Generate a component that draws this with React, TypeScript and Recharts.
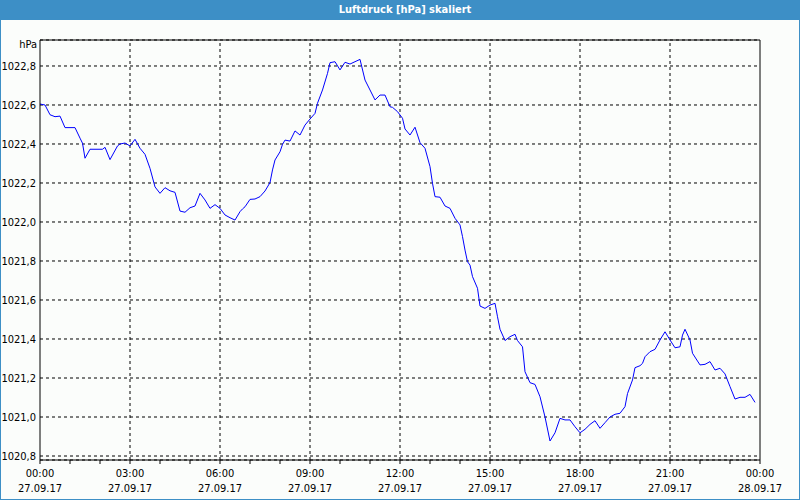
import { CartesianGrid, Line, LineChart, ReferenceLine, XAxis, YAxis } from "recharts";

// minutes since 27.09.17 00:00
const times = [
  0, 10, 20, 30, 40, 50, 70, 80, 85, 90, 100, 125, 130, 140, 155, 160, 170, 180, 190, 200,
  210, 220, 230, 240, 250, 260, 270, 280, 290, 300, 310, 320, 330, 340, 350, 360, 370, 380,
  390, 400, 405, 410, 420, 430, 440, 450, 460, 465, 470, 480, 485, 490, 500, 510, 520, 530,
  540, 550, 555, 565, 575, 580, 590, 600, 610, 620, 630, 640, 650, 660, 670, 680, 690, 700,
  705, 715, 725, 730, 740, 750, 760, 770, 780, 785, 790, 800, 810, 820, 830, 840, 845, 850,
  855, 860, 865, 875, 880, 890, 900, 910, 915, 920, 930, 940, 950, 955, 965, 970, 980, 990,
  1000, 1010, 1020, 1030, 1040, 1050, 1060, 1070, 1080, 1090, 1100, 1110, 1120, 1130, 1140,
  1150, 1160, 1170, 1175, 1185, 1190, 1200, 1205, 1210, 1220, 1230, 1240, 1250, 1260, 1270,
  1280, 1285, 1290, 1300, 1305, 1315, 1320, 1330, 1340, 1350, 1360, 1370, 1380, 1390, 1400,
  1410, 1420, 1430,
];

const pressure = [
  1022.605, 1022.6, 1022.55, 1022.54, 1022.543, 1022.484, 1022.484, 1022.43, 1022.404, 1022.327,
  1022.373, 1022.373, 1022.383, 1022.32, 1022.39, 1022.4, 1022.405, 1022.39, 1022.424, 1022.378,
  1022.347, 1022.275, 1022.18, 1022.147, 1022.176, 1022.16, 1022.152, 1022.056, 1022.05, 1022.073,
  1022.082, 1022.147, 1022.113, 1022.07, 1022.089, 1022.07, 1022.036, 1022.022, 1022.01, 1022.053,
  1022.067, 1022.078, 1022.116, 1022.118, 1022.13, 1022.159, 1022.202, 1022.267, 1022.318, 1022.36,
  1022.398, 1022.42, 1022.415, 1022.467, 1022.446, 1022.497, 1022.528, 1022.557, 1022.609, 1022.677,
  1022.762, 1022.817, 1022.822, 1022.78, 1022.819, 1022.81, 1022.822, 1022.834, 1022.728, 1022.677,
  1022.626, 1022.651, 1022.651, 1022.591, 1022.588, 1022.566, 1022.532, 1022.477, 1022.446, 1022.486,
  1022.407, 1022.378, 1022.284, 1022.198, 1022.13, 1022.127, 1022.082, 1022.07, 1022.019, 1021.985,
  1021.925, 1021.856, 1021.796, 1021.779, 1021.72, 1021.66, 1021.569, 1021.557, 1021.574, 1021.583,
  1021.514, 1021.45, 1021.392, 1021.412, 1021.424, 1021.392, 1021.36, 1021.232, 1021.176, 1021.167,
  1021.104, 1021.0, 1020.877, 1020.919, 1020.993, 1020.985, 1020.985, 1020.95, 1020.919, 1020.937,
  1020.962, 1020.981, 1020.942, 1020.971, 1021.0, 1021.014, 1021.019, 1021.053, 1021.12, 1021.19,
  1021.253, 1021.263, 1021.275, 1021.309, 1021.335, 1021.347, 1021.395, 1021.437, 1021.395, 1021.355,
  1021.36, 1021.42, 1021.45, 1021.395, 1021.327, 1021.287, 1021.267, 1021.27, 1021.284, 1021.241,
  1021.25, 1021.221, 1021.156, 1021.092, 1021.101, 1021.101, 1021.116, 1021.075,
];

const hourTicks = [
  0, 60, 120, 180, 240, 300, 360, 420, 480, 540, 600, 660, 720, 780, 840, 900, 960, 1020, 1080,
  1140, 1200, 1260, 1320, 1380, 1440,
];
const majorTicks = [0, 180, 360, 540, 720, 900, 1080, 1260, 1440];
const timeLabels = ["00:00", "03:00", "06:00", "09:00", "12:00", "15:00", "18:00", "21:00", "00:00"];
const dateLabels = [
  "27.09.17", "27.09.17", "27.09.17", "27.09.17", "27.09.17", "27.09.17", "27.09.17", "27.09.17",
  "28.09.17",
];
const yTicks = [1020.8, 1021.0, 1021.2, 1021.4, 1021.6, 1021.8, 1022.0, 1022.2, 1022.4, 1022.6, 1022.8];
const yDomain = [1020.7795, 1022.9333];

const data = times.map((t, i) => ({ t, p: pressure[i] }));

const FONT = '"Liberation Sans Narrow", "DejaVu Sans Condensed", "Liberation Sans", sans-serif';
const BLUE = "#3d8fc6";

function TimeTick(props: any) {
  const { x, y, payload } = props;
  const idx = majorTicks.indexOf(payload.value);
  if (idx < 0) return null;
  return (
    <g>
      <text x={x} y={y + 11} textAnchor="middle" fontSize={11} fontFamily={FONT} fill="#000">
        {timeLabels[idx]}
      </text>
      <text x={x} y={y + 26} textAnchor="middle" fontSize={11} fontFamily={FONT} fill="#000">
        {dateLabels[idx]}
      </text>
    </g>
  );
}

function UnitLabel(props: any) {
  const { viewBox } = props;
  return (
    <text x={viewBox.x + 37} y={viewBox.y + 8} textAnchor="end" fontSize={11} fontFamily={FONT} fill="#000">
      hPa
    </text>
  );
}

export default function App() {
  const inner = majorTicks.slice(1, -1);
  return (
    <div style={{ position: "absolute", left: 0, top: 0, width: 800, height: 500, background: "#fbfdfb" }}>
      <LineChart width={800} height={500} data={data} margin={{ top: 40, right: 40, bottom: 0, left: 0 }}>
        <CartesianGrid vertical={false} stroke="#000" strokeDasharray="3 3" />
        {inner.map((t) => (
          <ReferenceLine key={t} x={t} stroke="#000" strokeDasharray="3 3" />
        ))}
        <ReferenceLine y={yDomain[1]} stroke="#000" />
        <ReferenceLine x={1440} stroke="#000" />
        <XAxis
          dataKey="t"
          type="number"
          domain={[0, 1440]}
          ticks={hourTicks}
          interval={0}
          height={40}
          tickSize={4}
          tickMargin={2}
          stroke="#000"
          tick={<TimeTick />}
        />
        <YAxis
          type="number"
          domain={yDomain}
          allowDataOverflow
          ticks={yTicks}
          interval={0}
          width={40}
          tickSize={0}
          tickMargin={4}
          stroke="#000"
          tick={{ fontSize: 11, fontFamily: FONT, fill: "#000" }}
          tickFormatter={(v: number) => v.toFixed(1).replace(".", ",")}
          label={<UnitLabel />}
        />
        <Line
          type="linear"
          dataKey="p"
          stroke="#0000ff"
          strokeWidth={1}
          dot={false}
          isAnimationActive={false}
        />
      </LineChart>
      <div
        style={{
          position: "absolute",
          left: 0,
          top: 0,
          width: 800,
          height: 20,
          background: BLUE,
          color: "#fff",
          fontFamily: FONT,
          fontWeight: "bold",
          fontSize: 11,
          lineHeight: "20px",
          textAlign: "center",
          paddingLeft: 10,
          boxSizing: "border-box",
        }}
      >
        Luftdruck [hPa] skaliert
      </div>
      <div
        style={{
          position: "absolute",
          left: 0,
          top: 0,
          width: 800,
          height: 500,
          border: `1px solid ${BLUE}`,
          boxSizing: "border-box",
          pointerEvents: "none",
        }}
      />
    </div>
  );
}
